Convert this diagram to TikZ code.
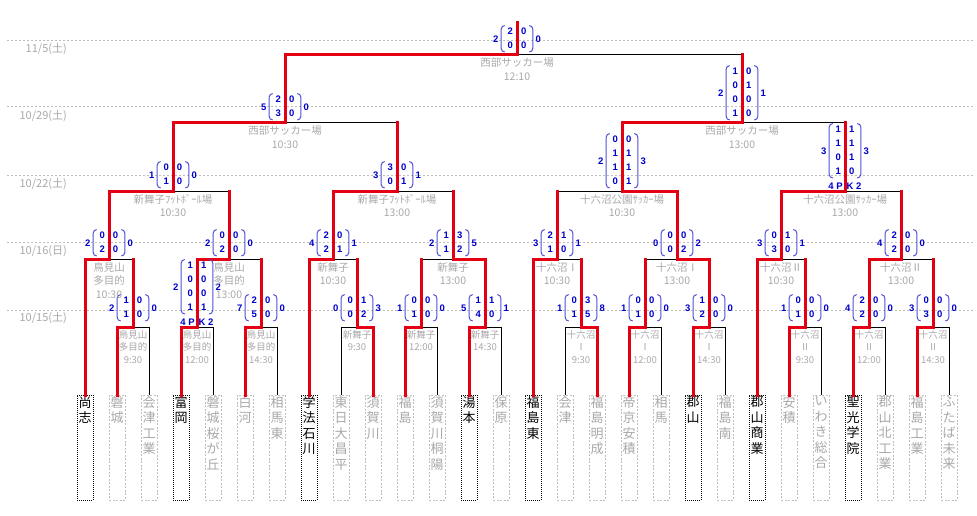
\documentclass[tikz,border=0pt]{standalone}
\usepackage{fontspec}
\setmainfont{Noto Sans CJK JP}
\newfontfamily\suji{Liberation Sans}
\usetikzlibrary{positioning}
\definecolor{kachi}{RGB}{228,0,18}
\definecolor{tokuten}{RGB}{0,0,204}
\definecolor{kakko}{RGB}{80,80,215}
\definecolor{usui}{RGB}{168,168,168}
\definecolor{hakosen}{RGB}{190,190,190}
\newcommand\tate[1]{\parbox[c][102pt][t]{16pt}{\centering\fontsize{13pt}{15.5pt}\selectfont #1}}
\newcommand\tensu[1]{\begin{tabular}{@{}c@{\hspace{8pt}}c@{}}#1\end{tabular}}
\tikzset{
  team/.style={draw=hakosen, line width=0.8pt, dash pattern=on 2pt off 1.5pt, text=usui, minimum width=16pt, minimum height=105pt, inner sep=0pt, outer sep=0pt, anchor=north},
  best8/.style={team, draw=black, dash pattern=on 1pt off 1pt, text=black},
  loseline/.style={draw=black, line width=1pt},
  winline/.style={draw=kachi, line width=3pt, line cap=rect},
  venue/.style={text=usui, align=center, inner sep=0pt, font=\fontsize{10.5pt}{13.5pt}\selectfont},
  venuesmall/.style={venue, font=\fontsize{9.5pt}{12.5pt}\selectfont},
  total/.style={text=tokuten, inner sep=1.5pt, font=\suji\bfseries\fontsize{9.5pt}{11pt}\selectfont},
  pk/.style={total, inner sep=0pt},
  score/.style 2 args={text=tokuten, font=\suji\bfseries\fontsize{9.5pt}{14pt}\selectfont, inner xsep=7.5pt, inner ysep=0pt,
    label={[total]left:#1}, label={[total]right:#2},
    path picture={
      \draw[kakko, line width=1pt, rounded corners=3.5pt]
        ([xshift=4.5pt,yshift=-0.8pt]path picture bounding box.north west) -- ([xshift=1pt,yshift=-0.8pt]path picture bounding box.north west)
        -- ([xshift=1pt,yshift=0.8pt]path picture bounding box.south west) -- ([xshift=4.5pt,yshift=0.8pt]path picture bounding box.south west)
        ([xshift=-4.5pt,yshift=-0.8pt]path picture bounding box.north east) -- ([xshift=-1pt,yshift=-0.8pt]path picture bounding box.north east)
        -- ([xshift=-1pt,yshift=0.8pt]path picture bounding box.south east) -- ([xshift=-4.5pt,yshift=0.8pt]path picture bounding box.south east);
    }},
  dateline/.style={draw=hakosen, line width=0.8pt, dash pattern=on 2pt off 2pt},
  datelabel/.style={text=usui, anchor=east, inner sep=0pt, font=\fontsize{11pt}{13pt}\selectfont}
}

\begin{document}
\begin{tikzpicture}[x=1pt, y=1pt]
	\useasboundingbox (0,0) rectangle (977,-516);
	\draw[dateline] (7,-40) -- (973,-40);
	\draw[dateline] (7,-106) -- (973,-106);
	\draw[dateline] (7,-175) -- (973,-175);
	\draw[dateline] (7,-242) -- (973,-242);
	\draw[dateline] (7,-310) -- (973,-310);
	\node[datelabel] (d1105) at (67,-49) {11/5(土)};
	\node[datelabel] (d1029) at (67,-116) {10/29(土)};
	\node[datelabel] (d1022) at (67,-184) {10/22(土)};
	\node[datelabel] (d1016) at (67,-251) {10/16(日)};
	\node[datelabel] (d1015) at (67,-318) {10/15(土)};

	\node[best8] (t1) at (85,-395) {\tate{尚\\志}};
	\node[team, right=16pt of t1] (t2) {\tate{磐\\城}};
	\node[team, right=16pt of t2] (t3) {\tate{会\\津\\工\\業}};
	\node[best8, right=16pt of t3] (t4) {\tate{富\\岡}};
	\node[team, right=16pt of t4] (t5) {\tate{磐\\城\\桜\\が\\丘}};
	\node[team, right=16pt of t5] (t6) {\tate{白\\河}};
	\node[team, right=16pt of t6] (t7) {\tate{相\\馬\\東}};
	\node[best8, right=16pt of t7] (t8) {\tate{学\\法\\石\\川}};
	\node[team, right=16pt of t8] (t9) {\tate{東\\日\\大\\昌\\平}};
	\node[team, right=16pt of t9] (t10) {\tate{須\\賀\\川}};
	\node[team, right=16pt of t10] (t11) {\tate{福\\島}};
	\node[team, right=16pt of t11] (t12) {\tate{須\\賀\\川\\桐\\陽}};
	\node[best8, right=16pt of t12] (t13) {\tate{湯\\本}};
	\node[team, right=16pt of t13] (t14) {\tate{保\\原}};
	\node[best8, right=16pt of t14] (t15) {\tate{福\\島\\東}};
	\node[team, right=16pt of t15] (t16) {\tate{会\\津}};
	\node[team, right=16pt of t16] (t17) {\tate{福\\島\\明\\成}};
	\node[team, right=16pt of t17] (t18) {\tate{帝\\京\\安\\積}};
	\node[team, right=16pt of t18] (t19) {\tate{相\\馬}};
	\node[best8, right=16pt of t19] (t20) {\tate{郡\\山}};
	\node[team, right=16pt of t20] (t21) {\tate{福\\島\\南}};
	\node[best8, right=16pt of t21] (t22) {\tate{郡\\山\\商\\業}};
	\node[team, right=16pt of t22] (t23) {\tate{安\\積}};
	\node[team, right=16pt of t23] (t24) {\tate{い\\わ\\き\\総\\合}};
	\node[best8, right=16pt of t24] (t25) {\tate{聖\\光\\学\\院}};
	\node[team, right=16pt of t25] (t26) {\tate{郡\\山\\北\\工\\業}};
	\node[team, right=16pt of t26] (t27) {\tate{福\\島\\工\\業}};
	\node[team, right=16pt of t27] (t28) {\tate{ふ\\た\\ば\\未\\来}};

	\coordinate (a1) at (133,-327);
	\coordinate (a2) at (197,-327);
	\coordinate (a3) at (261,-327);
	\coordinate (b1) at (357,-327);
	\coordinate (b2) at (421,-327);
	\coordinate (b3) at (485,-327);
	\coordinate (c1) at (581,-327);
	\coordinate (c2) at (645,-327);
	\coordinate (c3) at (709,-327);
	\coordinate (d1) at (805,-327);
	\coordinate (d2) at (869,-327);
	\coordinate (d3) at (933,-327);
	\coordinate (a4) at (109,-259);
	\coordinate (a5) at (229,-259);
	\coordinate (b4) at (333,-259);
	\coordinate (b5) at (453,-259);
	\coordinate (c4) at (557,-259);
	\coordinate (c5) at (677,-259);
	\coordinate (d4) at (781,-259);
	\coordinate (d5) at (901,-259);
	\coordinate (q1) at (173,-191);
	\coordinate (q2) at (397,-191);
	\coordinate (q3) at (622,-191);
	\coordinate (q4) at (845,-191);
	\coordinate (s1) at (285,-123);
	\coordinate (s2) at (742,-123);
	\coordinate (f) at (517,-55);
	\coordinate (top) at (517,-23);

	\draw[loseline] (t3) |- (a1) (t5) |- (a2) (t7) |- (a3) (t9) |- (b1) (t12) |- (b2) (t14) |- (b3);
	\draw[loseline] (t16) |- (c1) (t19) |- (c2) (t21) |- (c3) (t24) |- (d1) (t26) |- (d2) (t28) |- (d3);
	\draw[loseline] (a1) |- (a4) (a3) |- (a5) (b1) |- (b4) (b2) |- (b5) (c1) |- (c4) (c2) |- (c5) (d1) |- (d4) (d3) |- (d5);
	\draw[loseline] (a5) |- (q1) (b5) |- (q2) (c4) |- (q3) (d5) |- (q4) (q2) |- (s1) (q4) |- (s2) (s2) |- (f);

	\draw[winline] (t2) |- (a1) (t4) |- (a2) (t6) |- (a3) (t10) |- (b1) (t11) |- (b2) (t13) |- (b3);
	\draw[winline] (t17) |- (c1) (t18) |- (c2) (t20) |- (c3) (t23) |- (d1) (t25) |- (d2) (t27) |- (d3);
	\draw[winline] (t1) |- (a4) (a2) |- (a5) (t8) |- (b4) (b3) |- (b5) (t15) |- (c4) (c3) |- (c5) (t22) |- (d4) (d2) |- (d5);
	\draw[winline] (a4) |- (q1) (b4) |- (q2) (c5) |- (q3) (d4) |- (q4) (q1) |- (s1) (q3) |- (s2) (s1) |- (f) (f) -- (top);
	\draw[winline] (a1) -- (a1 |- a4) (a3) -- (a3 |- a5) (b1) -- (b1 |- b4) (b2) -- (b2 |- b5) (c1) -- (c1 |- c4) (c2) -- (c2 |- c5) (d1) -- (d1 |- d4) (d3) -- (d3 |- d5);
	\draw[winline] (a5) -- (a5 |- q1) (b5) -- (b5 |- q2) (c4) -- (c4 |- q3) (d5) -- (d5 |- q4) (q2) -- (q2 |- s1) (q4) -- (q4 |- s2) (s2) -- (s2 |- f);

	\node[score={2}{0}, above=5pt of a1] (a1s) {\tensu{1&0\\1&0}};
	\node[pk, above=1pt of a2] (a2pk) {4 P\hspace{4pt}K 2};
	\node[score={2}{2}, above=4pt of a2pk] (a2s) {\tensu{1&1\\0&0\\0&0\\1&1}};
	\node[score={7}{0}, above=5pt of a3] (a3s) {\tensu{2&0\\5&0}};
	\node[score={0}{3}, above=5pt of b1] (b1s) {\tensu{0&1\\0&2}};
	\node[score={1}{0}, above=5pt of b2] (b2s) {\tensu{0&0\\1&0}};
	\node[score={5}{1}, above=5pt of b3] (b3s) {\tensu{1&1\\4&0}};
	\node[score={1}{8}, above=5pt of c1] (c1s) {\tensu{0&3\\1&5}};
	\node[score={1}{0}, above=5pt of c2] (c2s) {\tensu{0&0\\1&0}};
	\node[score={3}{0}, above=5pt of c3] (c3s) {\tensu{1&0\\2&0}};
	\node[score={1}{0}, above=5pt of d1] (d1s) {\tensu{0&0\\1&0}};
	\node[score={4}{0}, above=5pt of d2] (d2s) {\tensu{2&0\\2&0}};
	\node[score={3}{0}, above=5pt of d3] (d3s) {\tensu{0&0\\3&0}};
	\node[score={2}{0}, above=2pt of a4] (a4s) {\tensu{0&0\\2&0}};
	\node[score={2}{0}, above=2pt of a5] (a5s) {\tensu{0&0\\2&0}};
	\node[score={4}{1}, above=2pt of b4] (b4s) {\tensu{2&0\\2&1}};
	\node[score={2}{5}, above=2pt of b5] (b5s) {\tensu{1&3\\1&2}};
	\node[score={3}{1}, above=2pt of c4] (c4s) {\tensu{2&1\\1&0}};
	\node[score={0}{2}, above=2pt of c5] (c5s) {\tensu{0&0\\0&2}};
	\node[score={3}{1}, above=2pt of d4] (d4s) {\tensu{0&1\\3&0}};
	\node[score={4}{0}, above=2pt of d5] (d5s) {\tensu{2&0\\2&0}};
	\node[score={1}{0}, above=2pt of q1] (q1s) {\tensu{0&0\\1&0}};
	\node[score={3}{1}, above=2pt of q2] (q2s) {\tensu{3&0\\0&1}};
	\node[score={2}{3}, above=2pt of q3] (q3s) {\tensu{0&0\\1&1\\1&1\\0&1}};
	\node[pk, above=1pt of q4] (q4pk) {4 P\hspace{4pt}K 2};
	\node[score={3}{3}, above=4pt of q4pk] (q4s) {\tensu{1&1\\1&1\\0&1\\1&0}};
	\node[score={5}{0}, above=2pt of s1] (s1s) {\tensu{2&0\\3&0}};
	\node[score={2}{1}, above=2pt of s2] (s2s) {\tensu{1&0\\0&1\\0&0\\1&0}};
	\node[score={2}{0}, above=2pt of f] (fs) {\tensu{2&0\\0&0}};

	\node[venuesmall, below=3pt of a1] (a1v) {鳥見山\\多目的\\9:30};
	\node[venuesmall, below=3pt of a2] (a2v) {鳥見山\\多目的\\12:00};
	\node[venuesmall, below=3pt of a3] (a3v) {鳥見山\\多目的\\14:30};
	\node[venuesmall, below=3pt of b1] (b1v) {新舞子\\9:30};
	\node[venuesmall, below=3pt of b2] (b2v) {新舞子\\12:00};
	\node[venuesmall, below=3pt of b3] (b3v) {新舞子\\14:30};
	\node[venuesmall, below=3pt of c1] (c1v) {十六沼\\Ⅰ\\9:30};
	\node[venuesmall, below=3pt of c2] (c2v) {十六沼\\Ⅰ\\12:00};
	\node[venuesmall, below=3pt of c3] (c3v) {十六沼\\Ⅰ\\14:30};
	\node[venuesmall, below=3pt of d1] (d1v) {十六沼\\Ⅱ\\9:30};
	\node[venuesmall, below=3pt of d2] (d2v) {十六沼\\Ⅱ\\12:00};
	\node[venuesmall, below=3pt of d3] (d3v) {十六沼\\Ⅱ\\14:30};
	\node[venue, below=3pt of a4] (a4v) {鳥見山\\多目的\\10:30};
	\node[venue, below=3pt of a5] (a5v) {鳥見山\\多目的\\13:00};
	\node[venue, below=3pt of b4] (b4v) {新舞子\\10:30};
	\node[venue, below=3pt of b5] (b5v) {新舞子\\13:00};
	\node[venue, below=3pt of c4] (c4v) {十六沼Ⅰ\\10:30};
	\node[venue, below=3pt of c5] (c5v) {十六沼Ⅰ\\13:00};
	\node[venue, below=3pt of d4] (d4v) {十六沼Ⅱ\\10:30};
	\node[venue, below=3pt of d5] (d5v) {十六沼Ⅱ\\13:00};
	\node[venue, below=3pt of q1] (q1v) {新舞子ﾌｯﾄﾎﾞｰﾙ場\\10:30};
	\node[venue, below=3pt of q2] (q2v) {新舞子ﾌｯﾄﾎﾞｰﾙ場\\13:00};
	\node[venue, below=3pt of q3] (q3v) {十六沼公園ｻｯｶｰ場\\10:30};
	\node[venue, below=3pt of q4] (q4v) {十六沼公園ｻｯｶｰ場\\13:00};
	\node[venue, below=3pt of s1] (s1v) {西部サッカー場\\10:30};
	\node[venue, below=3pt of s2] (s2v) {西部サッカー場\\13:00};
	\node[venue, below=3pt of f] (fv) {西部サッカー場\\12:10};
\end{tikzpicture}
\end{document}
